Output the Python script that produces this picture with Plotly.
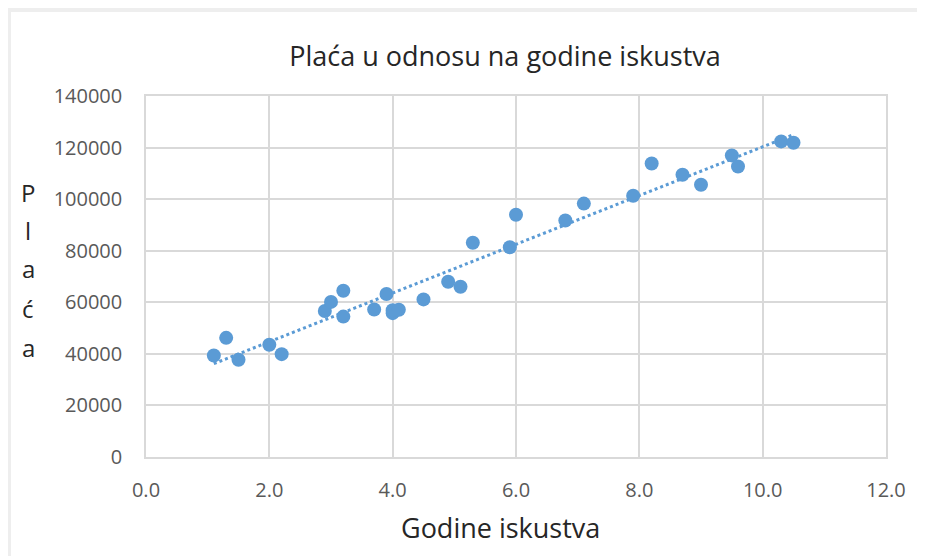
import numpy as np
import plotly.graph_objects as go

years = [1.1, 1.3, 1.5, 2.0, 2.2, 2.9, 3.0, 3.2, 3.2, 3.7, 3.9, 4.0, 4.0, 4.1, 4.5,
         4.9, 5.1, 5.3, 5.9, 6.0, 6.8, 7.1, 7.9, 8.2, 8.7, 9.0, 9.5, 9.6, 10.3, 10.5]
salary = [39343, 46205, 37731, 43525, 39891, 56642, 60150, 54445, 64445, 57189, 63218,
          55794, 56957, 57081, 61111, 67938, 66029, 83088, 81363, 93940, 91738, 98273,
          101302, 113812, 109431, 105582, 116969, 112635, 122391, 121872]
x_ticks = [0, 2, 4, 6, 8, 10, 12]
x_tick_labels = ["0.0", "2.0", "4.0", "6.0", "8.0", "10.0", "12.0"]
y_ticks = [0, 20000, 40000, 60000, 80000, 100000, 120000, 140000]
y_tick_labels = [str(v) for v in y_ticks]
y_title_letters = ["P", "l", "a", "ć", "a"]
x_title = "Godine iskustva"
chart_title = "Plaća u odnosu na godine iskustva"

slope, intercept = np.polyfit(years, salary, 1)
trend_x = [min(years), max(years)]
trend_y = [slope * v + intercept for v in trend_x]

blue = "#5B9BD5"
font = "Open Sans"
W, H = 917, 548
L, R, T, B = 138, 39, 88, 99
pw, ph = W - L - R, H - T - B

fig = go.Figure()
fig.add_trace(go.Scatter(x=trend_x, y=trend_y, mode="lines",
                         line=dict(color=blue, width=3, dash="dot"),
                         hoverinfo="skip", showlegend=False))
fig.add_trace(go.Scatter(x=years, y=salary, mode="markers",
                         marker=dict(color=blue, size=14), showlegend=False))

letter_y_px = [184, 222, 260, 300, 339]
annotations = []
for ch, ypx in zip(y_title_letters, letter_y_px):
    annotations.append(dict(text=ch, xref="paper", yref="paper",
                            x=(20 - L) / pw, y=1 - (ypx - T) / ph,
                            xanchor="center", yanchor="middle", showarrow=False,
                            font=dict(family=font, size=24, color="#262626")))
annotations.append(dict(text=x_title, xref="paper", yref="paper",
                        x=(492 - L) / pw, y=1 - (519 - T) / ph,
                        xanchor="center", yanchor="middle", showarrow=False,
                        font=dict(family=font, size=27, color="#262626")))

fig.update_layout(
    width=W, height=H,
    paper_bgcolor="white", plot_bgcolor="white",
    margin=dict(l=L, r=R, t=T, b=B, autoexpand=False),
    title=dict(text=chart_title, x=497 / W, xanchor="center",
               y=1 - 49 / H, yanchor="middle",
               font=dict(family=font, size=27, color="#262626")),
    xaxis=dict(range=[0, 12], tickvals=x_ticks, ticktext=x_tick_labels,
               showgrid=True, gridcolor="#d9d9d9", gridwidth=1.5,
               zeroline=False, showline=True, linecolor="#d9d9d9", linewidth=1.5, mirror=True,
               ticks="", ticklabelstandoff=14,
               tickfont=dict(family=font, size=20, color="#595959")),
    yaxis=dict(range=[0, 140000], tickvals=y_ticks, ticktext=y_tick_labels,
               showgrid=True, gridcolor="#d9d9d9", gridwidth=1.5,
               zeroline=False, showline=True, linecolor="#d9d9d9", linewidth=1.5, mirror=True,
               ticks="", ticklabelstandoff=18,
               tickfont=dict(family=font, size=20, color="#595959")),
    annotations=annotations,
    shapes=[
        dict(type="rect", xref="paper", yref="paper", x0=-L / pw, x1=1 + R / pw,
             y0=1 + (T - 4) / ph, y1=1 + T / ph,
             fillcolor="#eeeeee", line_width=0, layer="below"),
        dict(type="rect", xref="paper", yref="paper", x0=-L / pw, x1=-(L - 3) / pw,
             y0=-B / ph, y1=1 + T / ph,
             fillcolor="#eeeeee", line_width=0, layer="below"),
    ],
)

fig.write_html("out.html")
